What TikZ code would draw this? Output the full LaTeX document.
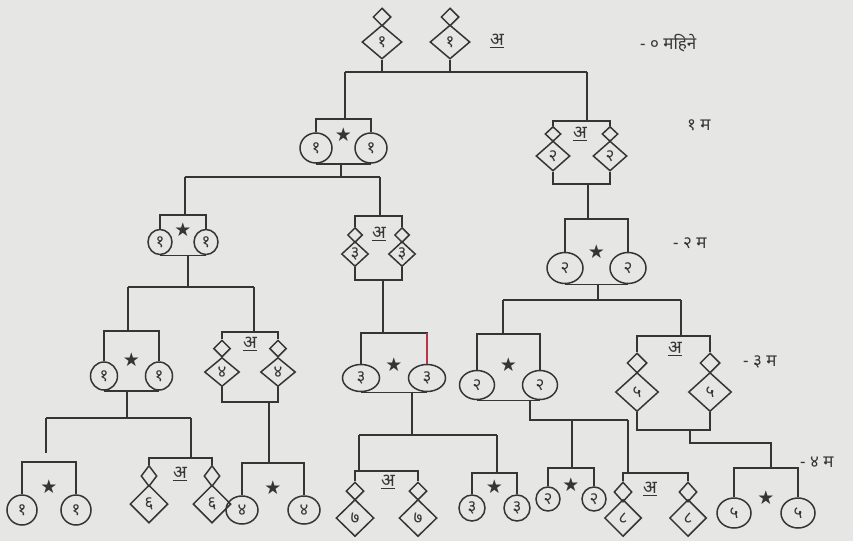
\documentclass[tikz,border=0pt]{standalone}
\usepackage{fontspec}
\usetikzlibrary{shapes.geometric}
\newfontfamily\deva[Script=Devanagari]{Noto Sans}
\newfontfamily\symb{DejaVu Sans}
\definecolor{paper}{HTML}{E6E6E4}
\definecolor{ink}{HTML}{353535}
\definecolor{redline}{HTML}{B8344A}

\tikzset{
  ink line/.style={draw=ink, line width=1.5pt},
  red line/.style={draw=redline, line width=1.5pt},
  mcircle/.style={ellipse, draw=ink, line width=1.5pt, inner sep=0pt,
    font=\deva\fontsize{17}{17}\selectfont, text=ink},
  fdiam/.style={diamond, draw=ink, line width=1.5pt, inner sep=0pt,
    font=\deva\fontsize{17}{17}\selectfont, text=ink},
  starsym/.style={font=\symb\fontsize{19}{19}\selectfont, text=ink, inner sep=0pt},
  amark/.style={font=\deva\fontsize{18}{18}\selectfont, text=ink, inner sep=0pt},
  genlabel/.style={font=\deva\fontsize{17}{17}\selectfont, text=ink, anchor=west, inner sep=0pt},
}

% male couple: name, x left, x right, y of box top, y of circles,
% circle width, circle height, digit, y of star
\newcommand\mcouple[9]{%
  \node[mcircle, minimum width=#6pt, minimum height=#7pt] (#1l) at (#2,#5) {#8};
  \node[mcircle, minimum width=#6pt, minimum height=#7pt] (#1r) at (#3,#5) {#8};
  \coordinate (#1tl) at (#2,#4);
  \coordinate (#1tr) at (#3,#4);
  \draw[ink line] (#1l.north) -- (#1tl) -- (#1tr) -- (#1r.north);
  \node[starsym] (#1s) at ({(#2+#3)/2},#9) {★};
}
\newcommand\mbottom[1]{\draw[ink line] (#1l.south) -- (#1r.south);}

% diamond sizes: small width, small height, big width, big height
\newcommand\dsize[4]{\def\dSmW{#1pt}\def\dSmH{#2pt}\def\dBgW{#3pt}\def\dBgH{#4pt}}
% female couple: name, x left, x right, y of box top, y of small diamonds,
% y of big diamonds, y of bottom line, digit
\newcommand\fcouple[8]{%
  \node[fdiam, minimum width=\dSmW, minimum height=\dSmH] (#1la) at (#2,#5) {};
  \node[fdiam, minimum width=\dBgW, minimum height=\dBgH] (#1lb) at (#2,#6) {#8};
  \node[fdiam, minimum width=\dSmW, minimum height=\dSmH] (#1ra) at (#3,#5) {};
  \node[fdiam, minimum width=\dBgW, minimum height=\dBgH] (#1rb) at (#3,#6) {#8};
  \coordinate (#1tl) at (#2,#4);
  \coordinate (#1tr) at (#3,#4);
  \coordinate (#1bl) at (#2,#7);
  \coordinate (#1br) at (#3,#7);
}
\newcommand\ftop[1]{\draw[ink line] (#1la.north) -- (#1tl) -- (#1tr) -- (#1ra.north);}
\newcommand\fbottom[1]{\draw[ink line] (#1lb.south) -- (#1bl) -- (#1br) -- (#1rb.south);}

\begin{document}
\begin{tikzpicture}[x=1pt,y=-1pt]
\useasboundingbox (0,0) rectangle (853,541);
\fill[paper] (0,0) rectangle (853,541);

% ---------- generation 0 ----------
\dsize{18}{18}{40}{34}
\fcouple{F0}{382}{450}{0}{17}{42}{72}{१}
\node[amark] (F0a) at (497,41) {\underline{अ}};
\coordinate (g0L) at (345,72);
\coordinate (g0R) at (587,72);
\draw[ink line] (F0lb.south) -- (F0bl);
\draw[ink line] (F0rb.south) -- (F0br);
\draw[ink line] (g0L) -- (g0R);

% ---------- generation 1 ----------
\mcouple{M1}{316}{371}{119}{148}{32}{30}{१}{135}
\mbottom{M1}
\dsize{16}{15}{34}{30}
\fcouple{F1}{553}{610}{121}{134}{156}{184}{२}
\ftop{F1}\fbottom{F1}
\node[amark] (F1a) at (580,134) {\underline{अ}};
\coordinate (M1top) at (345,119);
\coordinate (F1top) at (587,121);
\draw[ink line] (g0L) -- (M1top);
\draw[ink line] (g0R) -- (F1top);

% ---------- generation 2 ----------
\mcouple{M2a}{160}{206}{215}{242}{24}{25}{१}{230}
\mbottom{M2a}
\dsize{15}{15}{27}{25}
\fcouple{F2}{355}{402}{216}{235}{254}{280}{३}
\ftop{F2}\fbottom{F2}
\node[amark] (F2a) at (379,234) {\underline{अ}};
\mcouple{M2b}{565}{628}{219}{268}{36}{31}{२}{252}
\mbottom{M2b}

\coordinate (M1d) at (341,163);
\coordinate (j1) at (341,177);
\coordinate (g1L) at (185,177);
\coordinate (g1R) at (380,177);
\coordinate (M2atop) at (185,215);
\coordinate (F2top) at (380,216);
\draw[ink line] (M1d) -- (j1);
\draw[ink line] (g1L) -- (g1R);
\draw[ink line] (g1L) -- (M2atop);
\draw[ink line] (g1R) -- (F2top);
\coordinate (F1d) at (588,184);
\coordinate (M2btop) at (588,219);
\draw[ink line] (F1d) -- (M2btop);

% ---------- generation 3 ----------
\mcouple{M3a}{104}{159}{331}{376}{27}{28}{१}{360}
\mbottom{M3a}
\dsize{17}{17}{35}{29}
\fcouple{F3a}{222}{278}{332}{348.5}{372}{402}{४}
\ftop{F3a}\fbottom{F3a}
\node[amark] (F3aa) at (250,344) {\underline{अ}};
\mcouple{M3b}{361}{427}{333}{378}{37}{27}{३}{365}
\mbottom{M3b}
\draw[red line] (M3btr) -- (M3br.north);
\mcouple{M3c}{477}{540}{334}{385}{35}{29}{२}{365}
\mbottom{M3c}
\dsize{20}{20}{43}{39}
\fcouple{F3b}{637}{710}{336}{363}{392}{430}{५}
\ftop{F3b}\fbottom{F3b}
\node[amark] (F3ba) at (675,349) {\underline{अ}};

\coordinate (M2ad) at (188,254.5);
\coordinate (j2a) at (188,287);
\coordinate (g2aL) at (128,287);
\coordinate (g2aR) at (254,287);
\coordinate (M3atop) at (128,331);
\coordinate (F3atop) at (254,332);
\draw[ink line] (M2ad) -- (j2a);
\draw[ink line] (g2aL) -- (g2aR);
\draw[ink line] (g2aL) -- (M3atop);
\draw[ink line] (g2aR) -- (F3atop);
\coordinate (F2d) at (383,280);
\coordinate (M3btop) at (383,333);
\draw[ink line] (F2d) -- (M3btop);
\coordinate (M2bd) at (598,283.5);
\coordinate (j2b) at (598,300);
\coordinate (g2bL) at (503,300);
\coordinate (g2bR) at (681,300);
\coordinate (M3ctop) at (503,334);
\coordinate (F3btop) at (681,336);
\draw[ink line] (M2bd) -- (j2b);
\draw[ink line] (g2bL) -- (g2bR);
\draw[ink line] (g2bL) -- (M3ctop);
\draw[ink line] (g2bR) -- (F3btop);

% ---------- generation 4 ----------
\mcouple{M4a}{22}{76}{462}{510}{30}{30}{१}{487}
\dsize{16}{21}{38}{38}
\fcouple{F4a}{149}{212}{458}{476}{504}{0}{६}
\ftop{F4a}
\node[amark] (F4aa) at (180,474) {\underline{अ}};
\mcouple{M4b}{242}{304}{463}{510}{32}{28}{४}{488}
\dsize{18}{18}{38}{37}
\fcouple{F4b}{355}{418}{471}{491}{518}{0}{७}
\ftop{F4b}
\node[amark] (F4ba) at (388,482) {\underline{अ}};
\mcouple{M4c}{472}{517}{473}{508}{26}{26}{३}{487}
\mcouple{M4d}{548}{594}{468}{499}{24}{24}{२}{485}
\dsize{18}{20}{37}{37}
\fcouple{F4c}{623}{688}{473}{492}{518}{0}{८}
\ftop{F4c}
\node[amark] (F4ca) at (650,489) {\underline{अ}};
\mcouple{M4e}{734}{798}{468}{513}{34}{30}{५}{498}

\coordinate (M3ad) at (127,390);
\coordinate (j3a) at (127,418);
\coordinate (g3aL) at (46,418);
\coordinate (g3aR) at (191,418);
\coordinate (g3aEnd) at (46,453);
\coordinate (F4atop) at (191,458);
\draw[ink line] (M3ad) -- (j3a);
\draw[ink line] (g3aL) -- (g3aR);
\draw[ink line] (g3aL) -- (g3aEnd);
\draw[ink line] (g3aR) -- (F4atop);
\coordinate (F3ad) at (269,402);
\coordinate (M4btop) at (269,463);
\draw[ink line] (F3ad) -- (M4btop);
\coordinate (M3bd) at (412,391.5);
\coordinate (j3b) at (412,435);
\coordinate (g3bL) at (359,435);
\coordinate (g3bR) at (497,435);
\coordinate (F4btop) at (359,471);
\coordinate (M4ctop) at (497,473);
\draw[ink line] (M3bd) -- (j3b);
\draw[ink line] (g3bL) -- (g3bR);
\draw[ink line] (g3bL) -- (F4btop);
\draw[ink line] (g3bR) -- (M4ctop);
\coordinate (M3cd) at (530,399.5);
\coordinate (j3c) at (530,420);
\coordinate (g3cM) at (572,420);
\coordinate (g3cR) at (628,420);
\coordinate (M4dtop) at (572,468);
\coordinate (F4ctop) at (628,473);
\draw[ink line] (M3cd) -- (j3c) -- (g3cR);
\draw[ink line] (g3cM) -- (M4dtop);
\draw[ink line] (g3cR) -- (F4ctop);
\coordinate (F3bd) at (690,430);
\coordinate (j3d) at (690,443);
\coordinate (g3dR) at (771,443);
\coordinate (M4etop) at (771,468);
\draw[ink line] (F3bd) -- (j3d) -- (g3dR) -- (M4etop);

% ---------- generation labels ----------
\node[genlabel] (L0) at (640,43) {- ० महिने};
\node[genlabel] (L1) at (687,125) {१ म};
\node[genlabel] (L2) at (673,243) {- २ म};
\node[genlabel] (L3) at (743,362) {- ३ म};
\node[genlabel] (L4) at (800,462) {- ४ म};
\end{tikzpicture}
\end{document}
